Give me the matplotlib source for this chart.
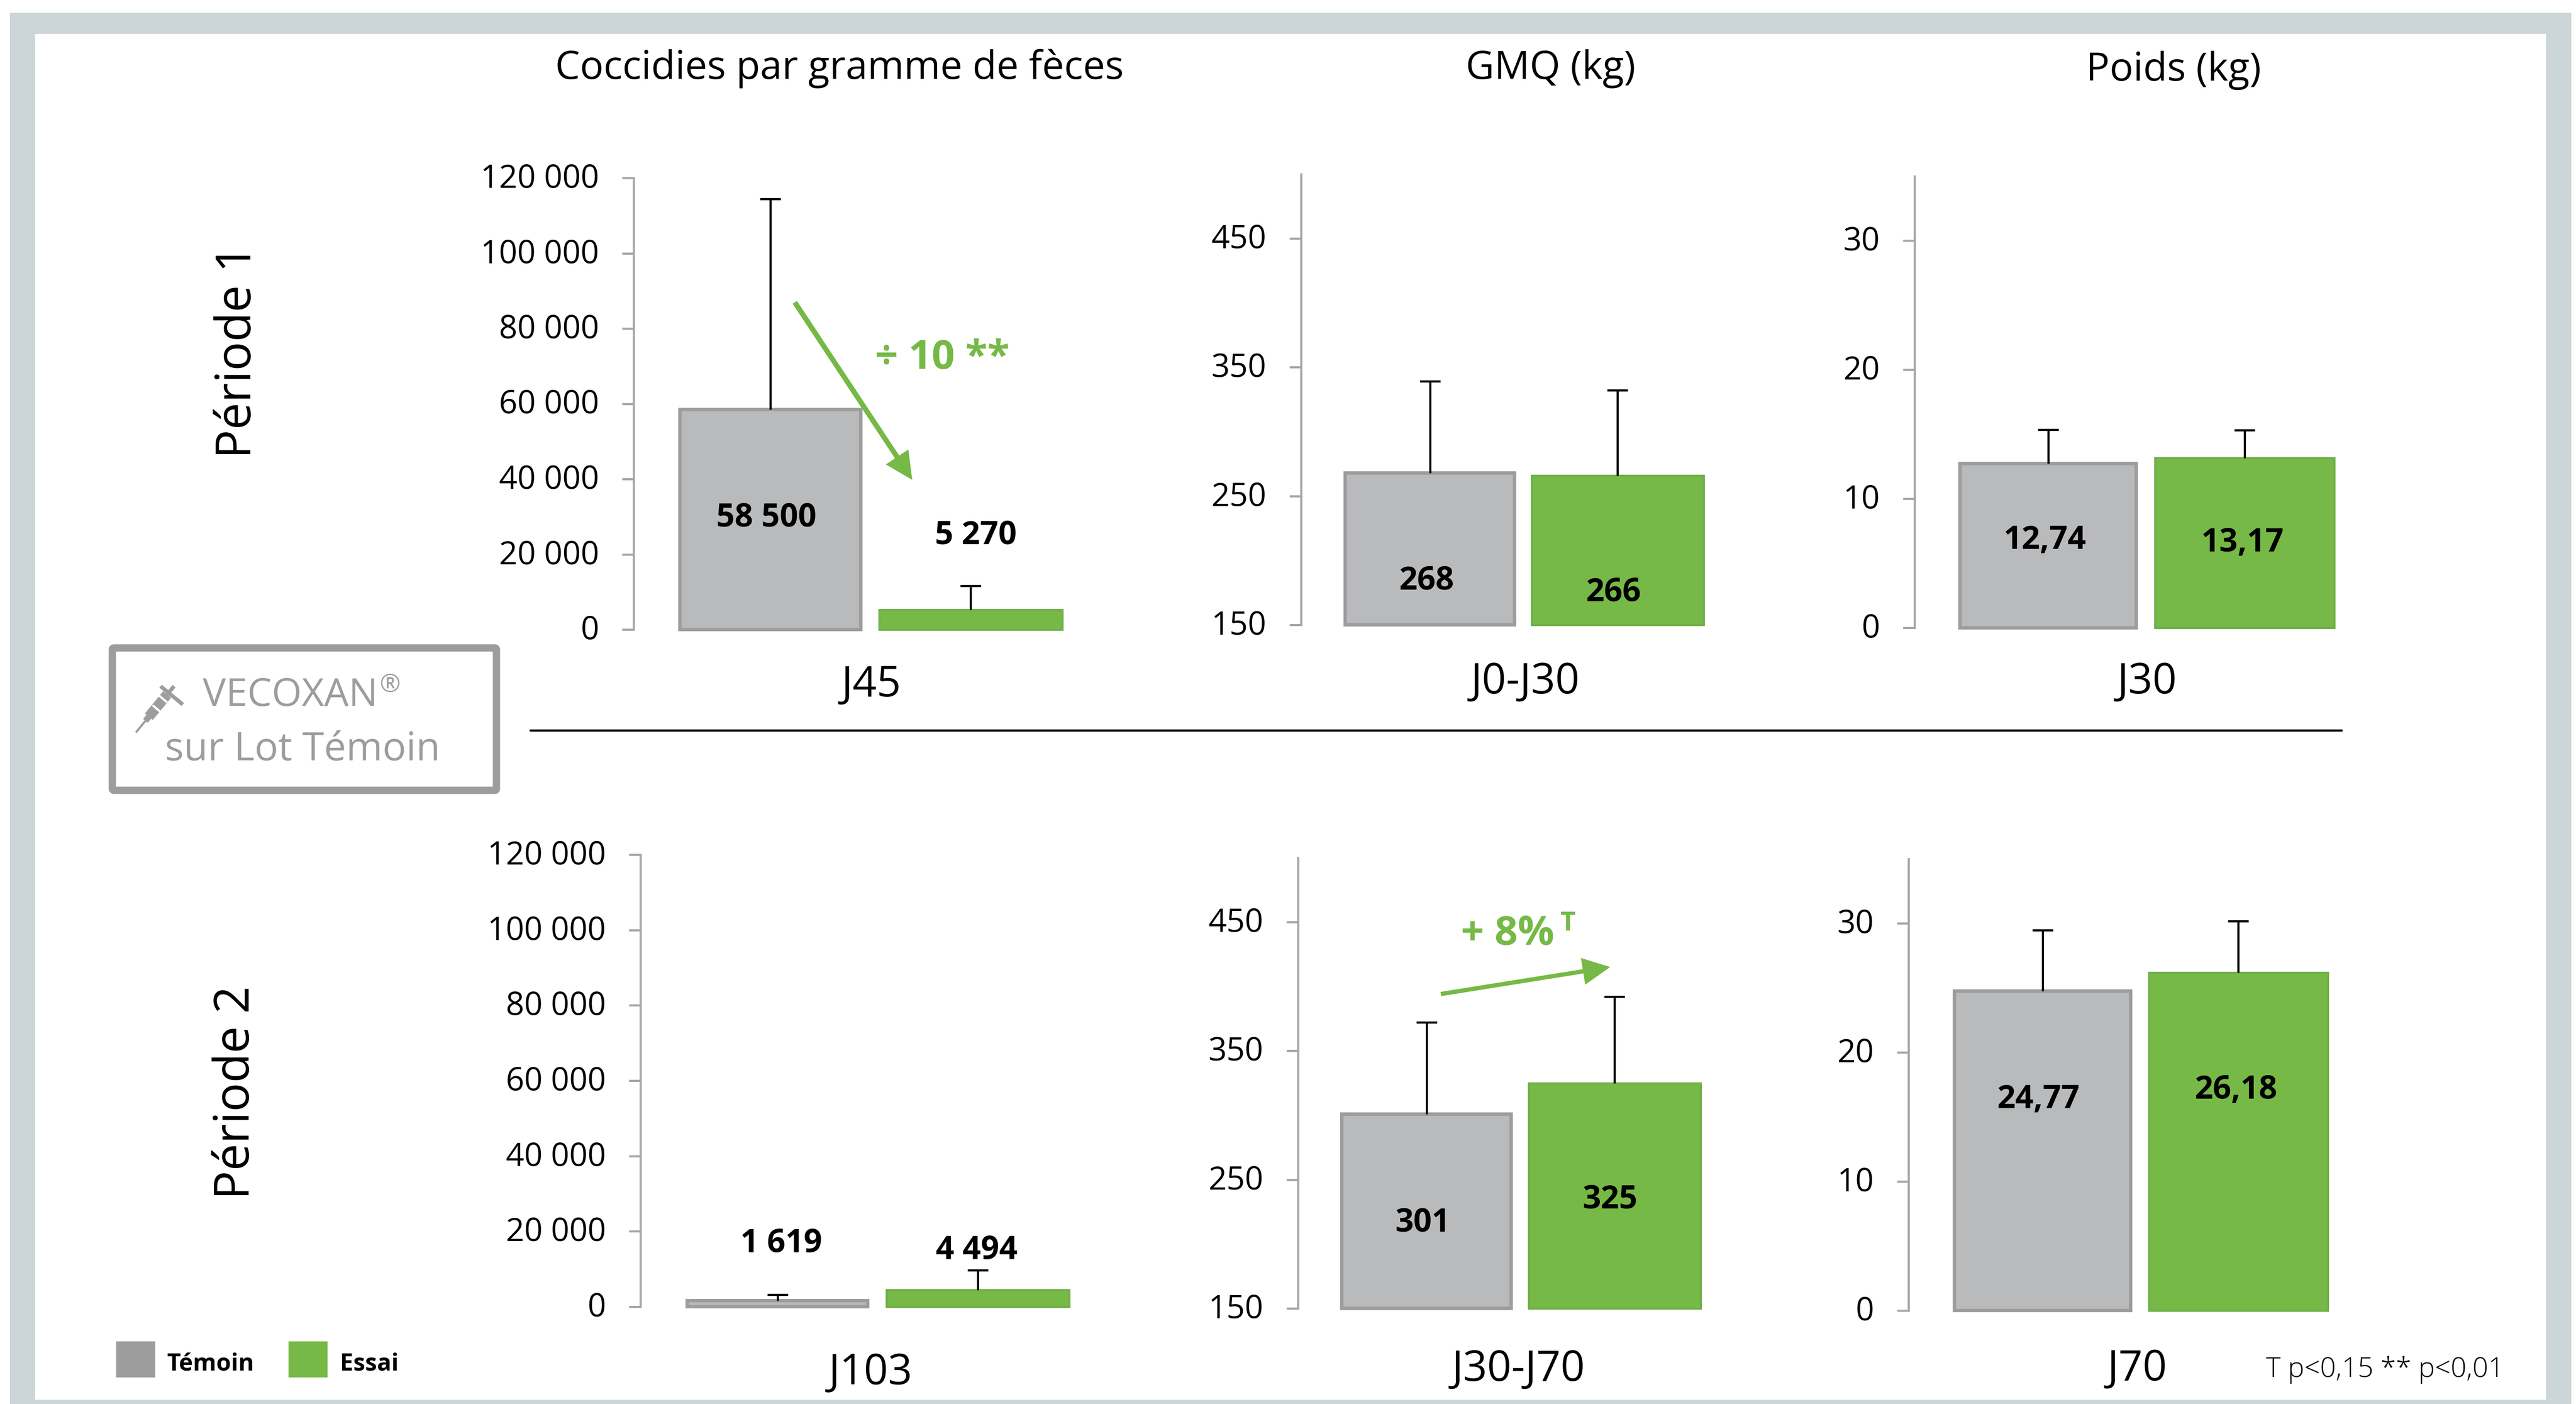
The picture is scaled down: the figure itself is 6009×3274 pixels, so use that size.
#!/usr/bin/env python3
import matplotlib
matplotlib.use("Agg")
import matplotlib.pyplot as plt
from matplotlib.patches import Rectangle, FancyArrow, FancyBboxPatch
from matplotlib.transforms import ScaledTranslation

plt.rcParams["font.family"] = ["Open Sans", "DejaVu Sans"]

W, H = 6009, 3274
DPI = 100
PT = 72.0 / DPI  # one pixel in points

# data
groupes = ["Témoin", "Essai"]
titres = ["Coccidies par gramme de fèces", "GMQ (kg)", "Poids (kg)"]
periodes = ["Période 1", "Période 2"]

jours_p1 = ["J45", "J0-J30", "J30"]
temoin_p1 = [58500, 268, 12.74]
essai_p1 = [5270, 266, 13.17]
temoin_err_p1 = [55900, 71, 2.6]
essai_err_p1 = [6400, 66, 2.15]
labels_p1 = [["58 500", "5 270"], ["268", "266"], ["12,74", "13,17"]]

jours_p2 = ["J103", "J30-J70", "J70"]
temoin_p2 = [1619, 301, 24.77]
essai_p2 = [4494, 325, 26.18]
temoin_err_p2 = [1600, 71, 4.7]
essai_err_p2 = [5200, 67, 4.0]
labels_p2 = [["1 619", "4 494"], ["301", "325"], ["24,77", "26,18"]]

ticks_coccidies = [0, 20000, 40000, 60000, 80000, 100000, 120000]
tick_labels_coccidies = ["0", "20 000", "40 000", "60 000", "80 000", "100 000", "120 000"]
ticks_gmq = [150, 250, 350, 450]
ticks_poids = [0, 10, 20, 30]
ylims = [(0, 120000), (150, 500), (0, 35)]

GRIS = "#B9BABC"
GRIS_BORD = "#9D9D9D"
VERT = "#76B947"
VERT_BORD = "#71AF48"
AXE = "#A6A6A6"
CADRE = "#CCD5D7"

# panel layout in pixels: axis x, top y, bottom y, gray left/right, green left/right
panels_p1 = [
    (1478, 415, 1468, 1582, 2012, 2048, 2480),
    (3035, 406, 1457, 3134, 3537, 3570, 3976),
    (4466, 411, 1464, 4568, 4987, 5024, 5447),
]
panels_p2 = [
    (1494, 1993, 3047, 1599, 2028, 2065, 2496),
    (3028, 2000, 3051, 3126, 3529, 3563, 3969),
    (4452, 2003, 3056, 4555, 4974, 5010, 5432),
]
label_pos_p1 = [[(1788, 1208), (2276, 1249)], [(3327, 1355), (3763, 1382)], [(4770, 1260), (5231, 1266)]]
label_pos_p2 = [[(1822, 2900), (2278, 2916)], [(3318, 2852), (3755, 2798)], [(4755, 2565), (5216, 2543)]]
jour_pos_p1 = [(2033, 1598), (3558, 1591), (5009, 1591)]
jour_pos_p2 = [(2031, 3202), (3542, 3194), (4986, 3193)]
titre_pos = [(1958, 160), (3617, 160), (5070, 164)]

fig = plt.figure(figsize=(W / DPI, H / DPI), dpi=DPI, facecolor="white")


def pixel_axes(zorder):
    ax = fig.add_axes([0, 0, 1, 1], zorder=zorder)
    ax.set_xlim(0, W)
    ax.set_ylim(H, 0)
    ax.axis("off")
    ax.patch.set_alpha(0)
    return ax


back = pixel_axes(0)
top = pixel_axes(10)

back.add_patch(Rectangle((23, 30), 5975, 3244, fc=CADRE, ec="none"))
back.add_patch(Rectangle((82, 79), 5857, 3185, fc="white", ec="none"))


def draw_panel(layout, i, t_val, e_val, t_err, e_err):
    axis_x, y_top, y_bot, g0, g1, e0, e1 = layout
    right = e1 + 30
    ax = fig.add_axes([axis_x / W, 1 - y_bot / H, (right - axis_x) / W, (y_bot - y_top) / H], zorder=5)
    ax.patch.set_alpha(0)
    cg = (g0 + g1) / 2
    ce = (e0 + e1) / 2
    unit = ce - cg
    ax.set_xlim((axis_x - cg) / unit, (right - cg) / unit)
    ymin, ymax = ylims[i]
    ax.set_ylim(ymin, ymax)
    ax.bar([0], [t_val - ymin], bottom=ymin, width=(g1 - g0 - 8) / unit, color=GRIS,
           edgecolor=GRIS_BORD, linewidth=8 * PT, clip_on=False, zorder=2)
    ax.bar([1], [e_val - ymin], bottom=ymin, width=(e1 - e0 - 5) / unit, color=VERT,
           edgecolor=VERT_BORD, linewidth=5 * PT, clip_on=False, zorder=2)
    cont = ax.errorbar([0, 1], [t_val, e_val], yerr=[[0, 0], [t_err, e_err]], fmt="none", ecolor="black",
                       elinewidth=5 * PT, capsize=24 * PT, capthick=5 * PT, zorder=3, clip_on=False)
    # only the upper cap is drawn in the source chart
    cont[1][0].set_visible(False)
    for name in ["top", "right", "bottom"]:
        ax.spines[name].set_visible(False)
    ax.spines["left"].set_color(AXE)
    ax.spines["left"].set_linewidth(5 * PT)
    ax.set_xticks([])
    if i == 0:
        ax.set_yticks(ticks_coccidies)
        ax.set_yticklabels(tick_labels_coccidies)
    elif i == 1:
        ax.set_yticks(ticks_gmq)
    else:
        ax.set_yticks(ticks_poids)
    ax.tick_params(axis="y", length=27 * PT, width=5 * PT, color=AXE, pad=54 * PT, labelsize=54, labelcolor="black")
    up = ScaledTranslation(0, 6 / DPI, fig.dpi_scale_trans)
    for lab in ax.get_yticklabels():
        lab.set_transform(lab.get_transform() + up)


for i in range(3):
    draw_panel(panels_p1[i], i, temoin_p1[i], essai_p1[i], temoin_err_p1[i], essai_err_p1[i])
    draw_panel(panels_p2[i], i, temoin_p2[i], essai_p2[i], temoin_err_p2[i], essai_err_p2[i])
    for lab, (x, y) in zip(labels_p1[i], label_pos_p1[i]):
        top.text(x, y, lab, fontsize=54, fontweight="bold", ha="center", va="center")
    for lab, (x, y) in zip(labels_p2[i], label_pos_p2[i]):
        top.text(x, y, lab, fontsize=54, fontweight="bold", ha="center", va="center")
    top.text(*jour_pos_p1[i], jours_p1[i], fontsize=71, ha="center", va="center")
    top.text(*jour_pos_p2[i], jours_p2[i], fontsize=71, ha="center", va="center")
    top.text(*titre_pos[i], titres[i], fontsize=66, ha="center", va="center")

top.text(555, 820, periodes[0], fontsize=81, rotation=90, ha="center", va="center")
top.text(551, 2548, periodes[1], fontsize=81, rotation=90, ha="center", va="center")

# separator
top.plot([1235, 5464], [1703, 1703], color="black", lw=5 * PT, solid_capstyle="butt")

# green arrows and their notes
top.add_patch(FancyArrow(1854, 705, 274, 414, width=12, head_width=63, head_length=64,
                         length_includes_head=True, color=VERT, lw=0))
top.add_patch(FancyArrow(3361, 2318, 395, -63, width=10, head_width=63, head_length=64,
                         length_includes_head=True, color=VERT, lw=0))
top.text(2041, 860, "÷ 10 **", color=VERT, fontsize=68, fontweight="bold", ha="left", va="baseline")
top.text(3408, 2203, "+ 8%", color=VERT, fontsize=68, fontweight="bold", ha="left", va="baseline")
top.text(3640, 2170, "T", color=VERT, fontsize=44, fontweight="bold", ha="left", va="baseline")

# Vecoxan box
top.add_patch(FancyBboxPatch((262, 1511), 896, 332, boxstyle="round,pad=0,rounding_size=4",
                             fc="white", ec=GRIS_BORD, lw=17 * PT))
top.text(473, 1646, "VECOXAN", color=GRIS_BORD, fontsize=65, ha="left", va="baseline")
top.text(885, 1613, "®", color=GRIS_BORD, fontsize=42, ha="left", va="baseline")
top.text(706, 1773, "sur Lot Témoin", color=GRIS_BORD, fontsize=66, ha="center", va="baseline")


def syringe(t0, t1, lw):
    top.plot([317 + 89 * t0, 317 + 89 * t1], [1708 - 108 * t0, 1708 - 108 * t1],
             color=GRIS_BORD, lw=lw * PT, solid_capstyle="butt")


syringe(0, 0.28, 5)
syringe(0.25, 0.36, 14)
syringe(0.34, 0.82, 24)
syringe(0.82, 1, 9)
top.plot([378, 423], [1603, 1640], color=GRIS_BORD, lw=9 * PT)
top.plot([340 + 89 * 0.2, 358 + 89 * 0.2], [1657 - 108 * 0.1, 1672 - 108 * 0.1], color="white", lw=5 * PT)
top.plot([350 + 89 * 0.2, 370 + 89 * 0.2], [1630 - 108 * 0.1, 1647 - 108 * 0.1], color="white", lw=5 * PT)

# legend
top.add_patch(Rectangle((271, 3128), 91, 84, fc=GRIS_BORD, ec="none"))
top.add_patch(Rectangle((673, 3128), 91, 84, fc=VERT, ec="none"))
top.text(390, 3196, groupes[0], fontsize=40, fontweight="bold", ha="left", va="baseline")
top.text(793, 3196, groupes[1], fontsize=40, fontweight="bold", ha="left", va="baseline")

top.text(5286, 3211, "T p<0,15 ** p<0,01", fontsize=46.5, fontweight="light", ha="left", va="baseline")

fig.savefig("out.png", dpi=DPI, facecolor="white")
